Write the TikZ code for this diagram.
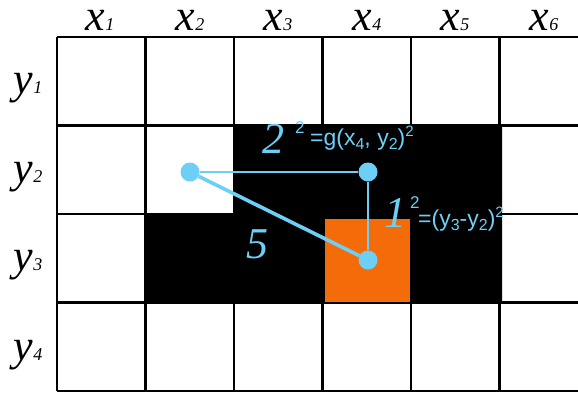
\documentclass[tikz,border=0pt]{standalone}
\usepackage{fontspec}
\setmainfont{Liberation Serif}
\newfontfamily\sansf{Liberation Sans}
\definecolor{lblue}{RGB}{110,207,246}
\definecolor{orng}{RGB}{244,108,10}
\tikzset{
  gridline/.style={draw=black, line width=2.2pt},
  outerline/.style={draw=black, line width=2.8pt},
  dot/.style={circle, fill=lblue, minimum size=19pt, inner sep=0pt},
  axlbl/.style={inner sep=0pt, anchor=base, font=\fontsize{44}{44}\selectfont\itshape},
  biglbl/.style={inner sep=0pt, anchor=base west, text=lblue, font=\fontsize{44}{44}\selectfont\itshape},
  suplbl/.style={inner sep=0pt, anchor=base west, text=lblue, font=\sansf\fontsize{17}{17}\selectfont},
  eqlbl/.style={inner sep=0pt, anchor=base west, text=lblue, font=\sansf\fontsize{23}{23}\selectfont},
  thinln/.style={draw=lblue, line width=1.4pt},
  thickln/.style={draw=lblue, line width=3.6pt}
}
\newcommand{\axsub}[1]{{\fontsize{18}{18}\selectfont #1}}
\newcommand{\eqsub}[1]{\raisebox{-4pt}{\fontsize{16}{16}\selectfont #1}}
\begin{document}
\begin{tikzpicture}[x=1pt,y=-1pt]
\useasboundingbox (0,0) rectangle (578,394);
\fill[white] (0,0) rectangle (578,394);
\begin{scope}
\clip (0,0) rectangle (578,394);
\foreach \x in {145.5,234,322.5,411,499.5}
  \draw[gridline] (\x,37) -- (\x,391);
\foreach \y in {125.5,214,302.5}
  \draw[gridline] (57,\y) -- (590,\y);
\draw[outerline] (57,37) -- (590,37);
\draw[outerline] (57,391) -- (590,391);
\draw[outerline] (57,37) -- (57,391);
\end{scope}
% black region
\fill[black] (233,125) -- (502,125) -- (502,302) -- (146,302) -- (146,213) -- (233,213) -- cycle;
% orange cell
\fill[orng] (325,219) rectangle (410,302);
% axis labels
\node[axlbl] (x1) at (100,30) {x\axsub{1}};
\node[axlbl] (x2) at (190,30) {x\axsub{2}};
\node[axlbl] (x3) at (278,30) {x\axsub{3}};
\node[axlbl] (x4) at (367,30) {x\axsub{4}};
\node[axlbl] (x5) at (455,30) {x\axsub{5}};
\node[axlbl] (x6) at (544,30) {x\axsub{6}};
\node[axlbl] (y1) at (28,93) {y\axsub{1}};
\node[axlbl] (y2) at (28,182) {y\axsub{2}};
\node[axlbl] (y3) at (28,270) {y\axsub{3}};
\node[axlbl] (y4) at (28,360) {y\axsub{4}};
% points
\node[dot] (p1) at (190,172) {};
\node[dot] (p2) at (368,172) {};
\node[dot] (p3) at (368,260) {};
\draw[thinln] (p1) -- (p2);
\draw[thinln] (p2) -- (p3);
\draw[thickln] (p1) -- (p3);
% labels
\node[biglbl] (two) at (262,153) {2};
\node[suplbl] (twosup) at (295,133) {2};
\node[eqlbl] (geq) at (310,145) {=g(x\eqsub{4}, y\eqsub{2})\raisebox{9pt}{\fontsize{15}{15}\selectfont 2}};
\node[biglbl] (one) at (384,227) {1};
\node[suplbl] (onesup) at (410,208) {2};
\node[eqlbl] (yeq) at (418,226) {=(y\eqsub{3}-y\eqsub{2})\raisebox{9pt}{\fontsize{15}{15}\selectfont 2}};
\node[biglbl] (five) at (246,258) {5};
\end{tikzpicture}
\end{document}
